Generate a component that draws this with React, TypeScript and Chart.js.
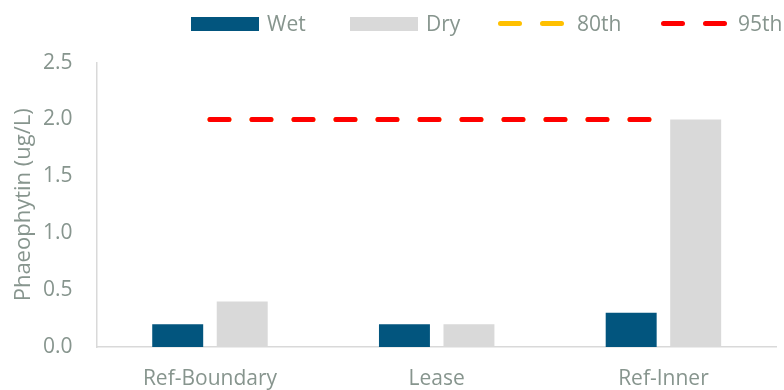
import React, { useEffect, useRef } from "react";
import { Chart, registerables } from "chart.js";

Chart.register(...registerables);

// Sampling sites along the x axis
const sites = ["Ref-Boundary", "Lease", "Ref-Inner"];

// Phaeophytin concentrations (ug/L)
const wetValues = [0.2, 0.2, 0.3];
const dryValues = [0.4, 0.2, 2.0];

// Percentile guideline values (ug/L)
const p80Values = [2.0, 2.0, 2.0];
const p95Values = [2.0, 2.0, 2.0];

// Y-axis tick range
const yMin = 0;
const yMax = 2.5;
const yStep = 0.5;

const WET = "#02557E";
const DRY = "#D9D9D9";
const P80 = "#FFC000";
const P95 = "#FF0000";
const TEXT = "#87958E";
const AXIS = "#D9D9D9";
const FONT = "'Open Sans', 'Noto Sans', sans-serif";

const legendPlugin = {
  id: "topLegend",
  afterDraw(chart: any) {
    const ctx = chart.ctx as CanvasRenderingContext2D;
    ctx.save();
    ctx.font = `21px ${FONT}`;
    ctx.fillStyle = TEXT;
    ctx.textBaseline = "alphabetic";
    ctx.textAlign = "left";

    const boxes = [
      { x: 191, color: WET, label: "Wet", tx: 267 },
      { x: 350, color: DRY, label: "Dry", tx: 426 },
    ];
    boxes.forEach((b) => {
      ctx.fillStyle = b.color;
      ctx.fillRect(b.x, 17, 68, 14);
      ctx.fillStyle = TEXT;
      ctx.fillText(b.label, b.tx, 31);
    });

    const lines = [
      { x: 500.5, color: P80, label: "80th", tx: 577 },
      { x: 663.5, color: P95, label: "95th", tx: 738 },
    ];
    lines.forEach((l) => {
      ctx.strokeStyle = l.color;
      ctx.lineWidth = 5;
      ctx.lineCap = "round";
      ctx.setLineDash([19, 23]);
      ctx.beginPath();
      ctx.moveTo(l.x, 23.5);
      ctx.lineTo(l.x + 61, 23.5);
      ctx.stroke();
      ctx.setLineDash([]);
      ctx.fillStyle = TEXT;
      ctx.fillText(l.label, l.tx, 31);
    });
    ctx.restore();
  },
};

export default function App() {
  const canvasRef = useRef<HTMLCanvasElement | null>(null);

  useEffect(() => {
    if (!canvasRef.current) return;
    const lineCommon = {
      type: "line" as const,
      borderWidth: 5,
      borderDash: [19, 23],
      borderCapStyle: "round" as const,
      pointRadius: 0,
      fill: false,
      tension: 0,
    };
    const chart = new Chart(canvasRef.current, {
      type: "bar",
      data: {
        labels: sites,
        datasets: [
          {
            ...lineCommon,
            label: "80th",
            data: p80Values,
            borderColor: P80,
            backgroundColor: P80,
            order: 1,
          } as any,
          {
            ...lineCommon,
            label: "95th",
            data: p95Values,
            borderColor: P95,
            backgroundColor: P95,
            order: 0,
          } as any,
          {
            label: "Wet",
            data: wetValues,
            backgroundColor: WET,
            categoryPercentage: 0.569,
            barPercentage: 0.79,
            order: 2,
          },
          {
            label: "Dry",
            data: dryValues,
            backgroundColor: DRY,
            categoryPercentage: 0.569,
            barPercentage: 0.79,
            order: 2,
          },
        ],
      },
      options: {
        responsive: false,
        animation: false,
        layout: { padding: { top: 62.6, right: 7.2, bottom: 0, left: 0 } },
        plugins: {
          legend: { display: false },
          tooltip: { enabled: false },
          title: { display: false },
        },
        scales: {
          x: {
            grid: { display: false, drawTicks: false },
            border: { display: true, color: AXIS, width: 1.5 },
            ticks: {
              color: TEXT,
              font: { family: FONT, size: 21 },
              padding: 19,
              maxRotation: 0,
            },
            afterFit(scale: any) {
              scale.height = 43;
            },
          },
          y: {
            min: yMin,
            max: yMax,
            grid: { display: false, drawTicks: false },
            border: { display: true, color: AXIS, width: 1.5 },
            ticks: {
              stepSize: yStep,
              color: TEXT,
              font: { family: FONT, size: 21 },
              padding: 24,
              callback: (v: any) => Number(v).toFixed(1),
            },
            title: {
              display: true,
              text: "Phaeophytin (ug/L)",
              color: TEXT,
              font: { family: FONT, size: 22 },
              padding: { top: 11, bottom: 0 },
            },
            afterFit(scale: any) {
              scale.width = 96.6;
            },
          },
        },
      },
      plugins: [legendPlugin],
    });
    return () => chart.destroy();
  }, []);

  return (
    <div
      style={{
        position: "fixed",
        left: 0,
        top: 0,
        width: 784,
        height: 390,
        background: "#ffffff",
      }}
    >
      <canvas ref={canvasRef} width={784} height={390} />
    </div>
  );
}
